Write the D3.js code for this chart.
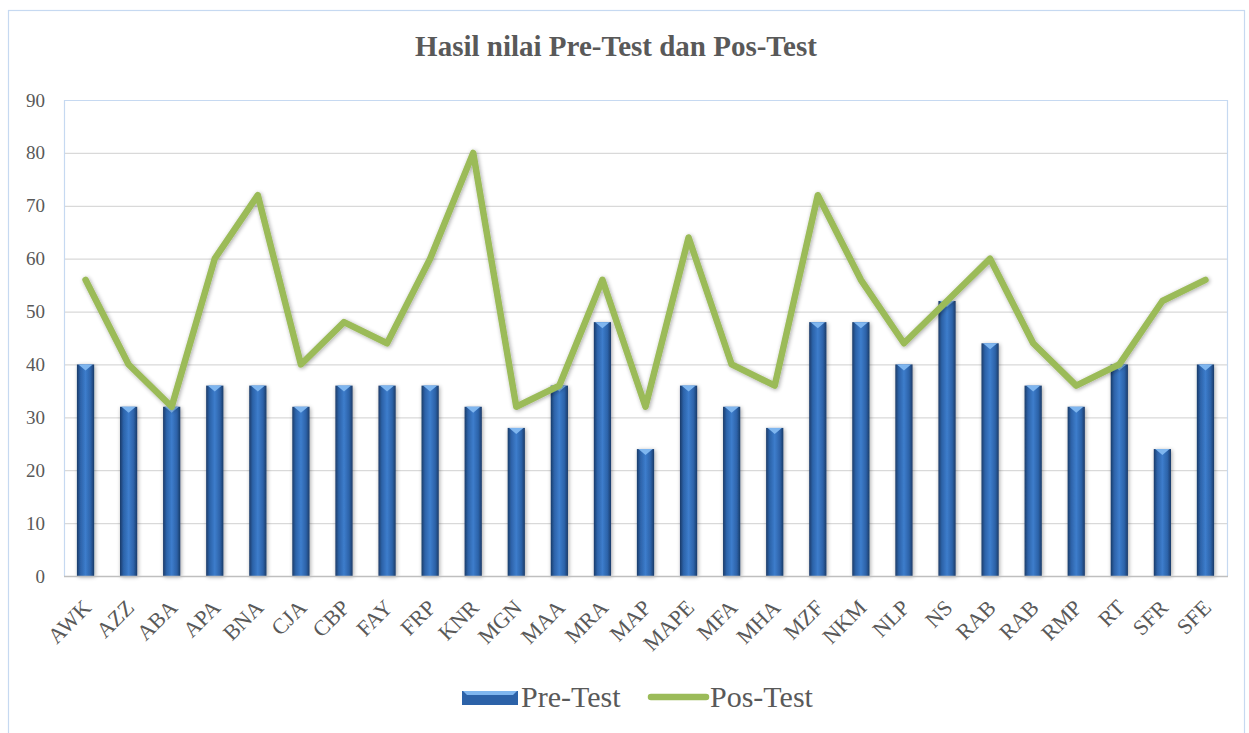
<!DOCTYPE html>
<html>
<head>
<meta charset="utf-8">
<script src="https://cdn.jsdelivr.net/npm/d3@7"></script>
<style>
  body { margin: 0; background: #fff; }
  svg { display: block; font-family: "Liberation Serif", "Times New Roman", serif; }
</style>
</head>
<body>
<div id="chart"></div>
<script>
"use strict"

// data
const names = ["AWK", "AZZ", "ABA", "APA", "BNA", "CJA", "CBP", "FAY", "FRP", "KNR", "MGN", "MAA", "MRA",
               "MAP", "MAPE", "MFA", "MHA", "MZF", "NKM", "NLP", "NS", "RAB", "RAB", "RMP", "RT", "SFR", "SFE"];
const preTest = [40, 32, 32, 36, 36, 32, 36, 36, 36, 32, 28, 36, 48,
                 24, 36, 32, 28, 48, 48, 40, 52, 44, 36, 32, 40, 24, 40];
const posTest = [56, 40, 32, 60, 72, 40, 48, 44, 60, 80, 32, 36, 56,
                 32, 64, 40, 36, 72, 56, 44, 52, 60, 44, 36, 40, 52, 56];
const yTicks = [0, 10, 20, 30, 40, 50, 60, 70, 80, 90];

const W = 1249, H = 733;
const plot = {left: 64, top: 100, right: 1227, bottom: 576};

let svg = d3.select("#chart").append("svg").attr("width", W).attr("height", H);

// gradients
let defs = svg.append("defs");
let grad = defs.append("linearGradient").attr("id", "barGrad").attr("x1", 0).attr("x2", 1).attr("y1", 0).attr("y2", 0);
grad.append("stop").attr("offset", "0%").attr("stop-color", "#1b3b68");
grad.append("stop").attr("offset", "20%").attr("stop-color", "#2c62a8");
grad.append("stop").attr("offset", "50%").attr("stop-color", "#3d7dcc");
grad.append("stop").attr("offset", "80%").attr("stop-color", "#2c62a8");
grad.append("stop").attr("offset", "100%").attr("stop-color", "#1b3b68");
let shadow = defs.append("filter").attr("id", "shadow").attr("x", "-50%").attr("width", "200%");
shadow.append("feGaussianBlur").attr("in", "SourceAlpha").attr("stdDeviation", 2);
shadow.append("feOffset").attr("dx", 1).attr("dy", 1).attr("result", "b");
shadow.append("feComponentTransfer").append("feFuncA").attr("type", "linear").attr("slope", 0.35);
let merge = shadow.append("feMerge");
merge.append("feMergeNode");
merge.append("feMergeNode").attr("in", "SourceGraphic");

// outer frame
svg.append("rect")
  .attr("x", 8.5).attr("y", 10.5).attr("width", 1236).attr("height", 740)
  .attr("fill", "none").attr("stroke", "#c6d9f1").attr("stroke-width", 1.2);

// title
svg.append("text")
  .attr("x", 616).attr("y", 56)
  .attr("text-anchor", "middle")
  .attr("font-size", 29).attr("font-weight", "bold").attr("fill", "#595959")
  .text("Hasil nilai Pre-Test dan Pos-Test");

let x = d3.scaleBand().domain(d3.range(names.length)).range([plot.left, plot.right]).paddingInner(0.6).paddingOuter(0.3);
let y = d3.scaleLinear().domain([0, 90]).range([plot.bottom, plot.top]);

// grid
svg.append("g")
  .selectAll("line")
  .data(yTicks.filter(d => d > 0 && d < 90))
  .enter()
    .append("line")
      .attr("x1", plot.left).attr("x2", plot.right)
      .attr("y1", d => y(d) + 0.5).attr("y2", d => y(d) + 0.5)
      .attr("stroke", "#d9d9d9").attr("stroke-width", 1.2);

// plot frame (left, top, right)
svg.append("path")
  .attr("d", `M${plot.left + 0.5},${plot.bottom}V${plot.top + 0.5}H${plot.right + 0.5}V${plot.bottom}`)
  .attr("fill", "none").attr("stroke", "#c6d9f1").attr("stroke-width", 1.2);

// y axis labels
let yAxis = svg.append("g")
  .attr("transform", `translate(${plot.left - 19},0)`)
  .call(d3.axisLeft(y).tickValues(yTicks).tickSize(0).tickPadding(0));
yAxis.select(".domain").remove();
yAxis.selectAll("text").attr("font-size", 19).attr("fill", "#595959").attr("font-family", "Liberation Serif");

// bars
let bars = svg.append("g").attr("filter", "url(#shadow)");
bars.selectAll("rect")
  .data(preTest)
  .enter()
    .append("rect")
      .attr("x", (d, i) => x(i))
      .attr("y", d => y(d))
      .attr("width", x.bandwidth())
      .attr("height", d => y(0) - y(d))
      .attr("fill", "url(#barGrad)");

// bevel tips on the bar tops
svg.append("g")
  .selectAll("path")
  .data(preTest)
  .enter()
    .append("path")
      .attr("d", (d, i) => {
        let x0 = x(i), w = x.bandwidth(), t = y(d);
        return `M${x0 + 1.5},${t}H${x0 + w - 1.5}L${x0 + w / 2},${t + 6}Z`;
      })
      .attr("fill", "#7fb6ef");

// x axis line
svg.append("line")
  .attr("x1", plot.left).attr("x2", plot.right + 1)
  .attr("y1", plot.bottom + 0.5).attr("y2", plot.bottom + 0.5)
  .attr("stroke", "#bfbfbf").attr("stroke-width", 1.5);

// x labels
let xAxis = svg.append("g")
  .attr("transform", `translate(0,${plot.bottom})`)
  .call(d3.axisBottom(x).tickSize(0).tickFormat(i => names[i]));
xAxis.select(".domain").remove();
xAxis.selectAll("text")
  .attr("font-size", 22).attr("fill", "#595959").attr("font-family", "Liberation Serif")
  .attr("text-anchor", "end")
  .attr("x", 0).attr("y", 0).attr("dy", 0)
  .attr("transform", "translate(7,33) rotate(-45)");

// pos-test line
let line = d3.line().x((d, i) => x(i) + x.bandwidth() / 2).y(d => y(d));
svg.append("path")
  .datum(posTest)
  .attr("d", line)
  .attr("fill", "none")
  .attr("stroke", "#9bbb59").attr("stroke-width", 6.5)
  .attr("stroke-linejoin", "round").attr("stroke-linecap", "round")
  .attr("filter", "url(#shadow)");

// legend
let legend = svg.append("g");
legend.append("rect")
  .attr("x", 462).attr("y", 691).attr("width", 56).attr("height", 14)
  .attr("fill", "#2c62a8");
legend.append("path")
  .attr("d", "M463,691H517L513,695H467Z").attr("fill", "#7fb6ef");
legend.append("text")
  .attr("x", 521).attr("y", 707)
  .attr("font-size", 30).attr("fill", "#595959")
  .text("Pre-Test");
legend.append("line")
  .attr("x1", 651).attr("x2", 706).attr("y1", 697).attr("y2", 697)
  .attr("stroke", "#9bbb59").attr("stroke-width", 6.5).attr("stroke-linecap", "round");
legend.append("text")
  .attr("x", 710).attr("y", 707)
  .attr("font-size", 30).attr("fill", "#595959")
  .text("Pos-Test");
</script>
</body>
</html>
